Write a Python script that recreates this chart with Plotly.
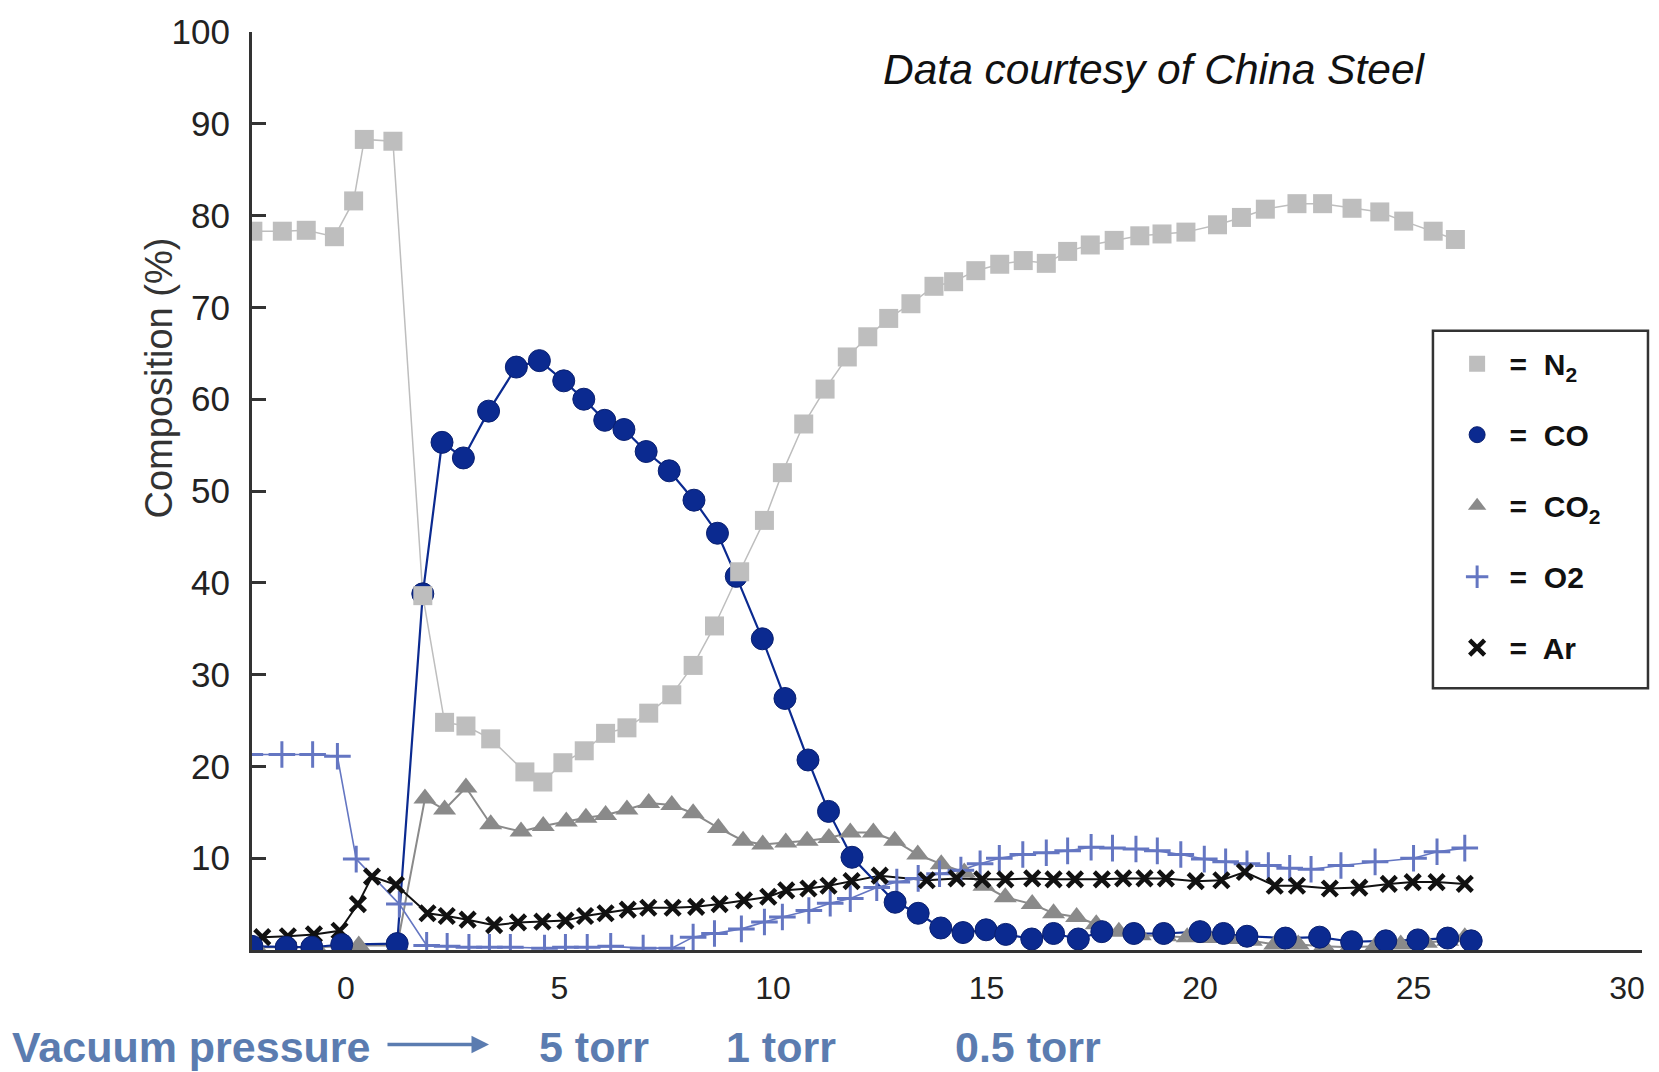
import plotly.graph_objects as go

# ---- gas composition of the off-gas during vacuum treatment ----
n2_x = [-2.18, -1.49, -0.93, -0.27, 0.18, 0.43, 1.10, 1.80, 2.31, 2.81, 3.39, 4.19, 4.61,
        5.08, 5.58, 6.08, 6.58, 7.09, 7.63, 8.13, 8.63, 9.22, 9.80, 10.22, 10.72, 11.22,
        11.74, 12.22, 12.71, 13.23, 13.77, 14.23, 14.75, 15.31, 15.86, 16.40, 16.90, 17.43,
        17.99, 18.59, 19.11, 19.67, 20.41, 20.97, 21.53, 22.27, 22.87, 23.56, 24.21, 24.77,
        25.46, 25.98]
n2_y = [78.3, 78.3, 78.4, 77.7, 81.6, 88.3, 88.1, 38.6, 24.8, 24.4, 23.0, 19.4, 18.3,
        20.4, 21.7, 23.6, 24.2, 25.8, 27.8, 31.0, 35.3, 41.2, 46.8, 52.0, 57.3, 61.1,
        64.6, 66.8, 68.8, 70.4, 72.3, 72.8, 74.0, 74.7, 75.1, 74.8, 76.1, 76.8,
        77.3, 77.8, 78.0, 78.2, 79.0, 79.8, 80.7, 81.3, 81.3, 80.8, 80.4, 79.4,
        78.3, 77.4]

co_x = [-2.2, -1.4, -0.8, -0.1, 1.2, 1.8, 2.25, 2.75, 3.34, 3.99, 4.53, 5.10, 5.57, 6.06,
        6.51, 7.03, 7.57, 8.15, 8.70, 9.14, 9.75, 10.28, 10.82, 11.30, 11.85, 12.86, 13.40,
        13.93, 14.45, 14.99, 15.45, 16.06, 16.57, 17.15, 17.70, 18.45, 19.15, 20.0, 20.55,
        21.1, 22.0, 22.8, 23.55, 24.35, 25.1, 25.8, 26.35]
co_y = [0.4, 0.3, 0.3, 0.6, 0.7, 38.8, 55.3, 53.6, 58.7, 63.5, 64.2, 62.0, 60.0, 57.7,
        56.7, 54.3, 52.2, 49.0, 45.4, 40.7, 33.9, 27.4, 20.7, 15.1, 10.1, 5.2, 4.0,
        2.4, 1.9, 2.2, 1.7, 1.2, 1.8, 1.2, 2.0, 1.8, 1.8, 2.0, 1.8,
        1.5, 1.3, 1.4, 0.9, 1.0, 1.1, 1.3, 1.0]

co2_x = [-2.1, -1.4, -0.7, 0.3, 1.2, 1.85, 2.31, 2.81, 3.39, 4.10, 4.62, 5.16, 5.62, 6.08,
         6.58, 7.09, 7.63, 8.13, 8.72, 9.30, 9.76, 10.30, 10.80, 11.31, 11.81, 12.35, 12.85,
         13.39, 13.94, 14.48, 14.94, 15.44, 16.07, 16.57, 17.11, 17.57, 18.1, 18.6, 19.2,
         19.7, 20.2, 20.7, 21.2, 21.75, 22.3, 22.9, 23.5, 24.1, 24.7, 25.3, 25.8, 26.2]
co2_y = [0.3, 0.3, 0.3, 0.5, 0.5, 16.5, 15.3, 17.7, 13.7, 12.9, 13.5, 14.0, 14.4, 14.7,
         15.3, 16.0, 15.8, 14.9, 13.3, 11.9, 11.5, 11.7, 11.9, 12.2, 12.8, 12.8, 11.9,
         10.4, 9.35, 8.45, 7.0, 5.75, 5.0, 4.0, 3.6, 2.8, 2.0, 1.6, 1.5,
         1.4, 1.3, 1.2, 1.0, 0.6, 0.6, 0.4, 0.3, 0.4, 0.6, 0.8, 1.0, 1.4]

o2_x = [-2.25, -1.5, -0.78, -0.2, 0.24, 1.25, 1.89, 2.37, 2.88, 3.36, 3.85, 4.65, 5.14,
        5.65, 6.2, 6.96, 7.63, 8.13, 8.63, 9.26, 9.80, 10.22, 10.84, 11.34, 11.81, 12.43,
        12.9, 13.4, 13.9, 14.4, 14.85, 15.3, 15.85, 16.4, 16.9, 17.45, 17.95, 18.5, 19.0,
        19.55, 20.1, 20.6, 21.1, 21.6, 22.1, 22.6, 23.3, 24.1, 25.0, 25.55, 26.2]
o2_y = [21.3, 21.3, 21.3, 21.1, 9.9, 5.0, 0.5, 0.4, 0.3, 0.3, 0.3, 0.2, 0.3,
        0.3, 0.4, 0.2, 0.2, 1.4, 1.8, 2.3, 3.05, 3.6, 4.3, 5.1, 5.6, 6.8,
        7.4, 7.8, 8.3, 8.7, 9.4, 10.0, 10.4, 10.6, 10.8, 11.2, 11.1, 11.0, 10.8,
        10.4, 9.9, 9.6, 9.4, 9.2, 8.9, 8.8, 9.2, 9.6, 10.0, 10.7, 11.1]

ar_x = [-1.96, -1.36, -0.75, -0.15, 0.28, 0.61, 1.17, 1.91, 2.36, 2.85, 3.47, 4.03, 4.6,
        5.14, 5.6, 6.08, 6.6, 7.08, 7.65, 8.2, 8.75, 9.32, 9.89, 10.31, 10.83, 11.3, 11.84,
        12.5, 13.6, 14.3, 14.9, 15.44, 16.07, 16.57, 17.07, 17.7, 18.2, 18.7, 19.2, 19.9,
        20.5, 21.05, 21.75, 22.27, 23.04, 23.73, 24.42, 24.98, 25.54, 26.2]
ar_y = [1.4, 1.5, 1.7, 2.1, 5.0, 8.0, 7.1, 4.0, 3.7, 3.3, 2.7, 3.0, 3.1,
        3.2, 3.7, 4.0, 4.4, 4.6, 4.6, 4.7, 5.0, 5.4, 5.8, 6.5, 6.7, 7.0, 7.5,
        8.1, 7.6, 7.8, 7.7, 7.7, 7.8, 7.7, 7.7, 7.7, 7.8, 7.8, 7.8, 7.5,
        7.6, 8.5, 7.0, 7.0, 6.7, 6.8, 7.2, 7.4, 7.4, 7.2]

x_ticks = [0, 5, 10, 15, 20, 25, 30]
y_ticks = [10, 20, 30, 40, 50, 60, 70, 80, 90, 100]
pressure_labels = ["5 torr", "1 torr", "0.5 torr"]

FONT = "Liberation Sans, Arial, Helvetica, sans-serif"
AXIS = "#333333"
BLUE_TXT = "#5b7cb0"

series = {
    "N2":  dict(x=n2_x, y=n2_y, color="#bebebe", lw=1.5,
                marker=dict(symbol="square", size=19, color="#bebebe"),
                name="<b>=  N<sub>2</sub></b>", rank=1),
    "CO":  dict(x=co_x, y=co_y, color="#0b2a90", lw=2.2,
                marker=dict(symbol="circle", size=22, color="#0b2a90",
                            line=dict(color="#0a2070", width=1)),
                name="<b>=  CO</b>", rank=2),
    "CO2": dict(x=co2_x, y=co2_y, color="#8a8a8a", lw=2,
                marker=dict(symbol="triangle-up", size=20, color="#8a8a8a"),
                name="<b>=  CO<sub>2</sub></b>", rank=3),
    "O2":  dict(x=o2_x, y=o2_y, color="#6476c2", lw=1.6,
                marker=dict(symbol="cross-thin", size=19, color="#6476c2",
                            line=dict(color="#6476c2", width=3)),
                name="<b>=  O2</b>", rank=4),
    "Ar":  dict(x=ar_x, y=ar_y, color="#111111", lw=2,
                marker=dict(symbol="x-thin", size=15, color="#111111",
                            line=dict(color="#111111", width=4.5)),
                name="<b>=  Ar</b>", rank=5),
}

fig = go.Figure()

# connecting lines first, then the markers on top
for key in ["N2", "CO2", "O2", "Ar", "CO"]:
    s = series[key]
    fig.add_trace(go.Scatter(x=s["x"], y=s["y"], mode="lines",
                             line=dict(color=s["color"], width=s["lw"]),
                             showlegend=False, hoverinfo="skip"))

for key in ["CO2", "O2", "Ar", "CO", "N2"]:
    s = series[key]
    fig.add_trace(go.Scatter(x=s["x"], y=s["y"], mode="markers",
                             marker=s["marker"], name=s["name"],
                             legendgroup=key, legendrank=s["rank"]))

fig.update_layout(
    width=1659, height=1072,
    margin=dict(l=252, r=17, t=28, b=122),
    paper_bgcolor="white", plot_bgcolor="white",
    font=dict(family=FONT, color="#222222"),
    showlegend=True,
    legend=dict(x=0.858, y=0.667, xanchor="left", yanchor="top",
                bgcolor="rgba(0,0,0,0)", borderwidth=0,
                font=dict(family=FONT, size=30, color="#111111"),
                tracegroupgap=29, itemwidth=55),
    xaxis=dict(range=[-2.2, 30.35], showgrid=False, zeroline=False,
               showline=True, linecolor=AXIS, linewidth=3,
               tickvals=x_ticks, ticks="", ticklabelstandoff=8,
               tickfont=dict(size=32, color="#222222")),
    yaxis=dict(range=[0, 100], showgrid=False, zeroline=False,
               showline=True, linecolor=AXIS, linewidth=3,
               tickvals=y_ticks, ticks="inside", ticklen=14, tickwidth=3,
               tickcolor=AXIS, ticklabelstandoff=12,
               tickfont=dict(size=35, color="#222222")),
)

# legend frame
fig.add_shape(type="rect", xref="paper", yref="paper",
              x0=0.8496, x1=1.0043, y0=0.2852, y1=0.6746,
              line=dict(color=AXIS, width=2.5), fillcolor="rgba(0,0,0,0)")

# y-axis title
fig.add_annotation(text="Composition (%)", xref="paper", yref="paper",
                   x=-0.0669, y=0.6226, textangle=-90, showarrow=False,
                   xanchor="center", yanchor="middle",
                   font=dict(family=FONT, size=38, color="#333333"))

# source note
fig.add_annotation(text="<i>Data courtesy of China Steel</i>", xref="paper", yref="paper",
                   x=0.6496, y=0.959, showarrow=False, xanchor="center", yanchor="middle",
                   font=dict(family=FONT, size=42.5, color="#111111"))

# vacuum pressure row under the time axis
fig.add_annotation(text="<b>Vacuum pressure</b>", xref="paper", yref="paper",
                   x=-0.174, y=-0.1052, showarrow=False, xanchor="left", yanchor="middle",
                   font=dict(family=FONT, size=43, color=BLUE_TXT))
fig.add_annotation(text="", xref="paper", yref="paper", x=0.1705, y=-0.103,
                   ax=-103, ay=0, showarrow=True, arrowhead=2, arrowsize=1,
                   arrowwidth=3.5, arrowcolor=BLUE_TXT)
for label, px in zip(pressure_labels, [594, 781, 1028]):
    fig.add_annotation(text="<b>" + label + "</b>", xref="paper", yref="paper",
                       x=(px - 252) / 1390, y=-0.1052, showarrow=False,
                       xanchor="center", yanchor="middle",
                       font=dict(family=FONT, size=43, color=BLUE_TXT))

fig.write_html("out.html")
